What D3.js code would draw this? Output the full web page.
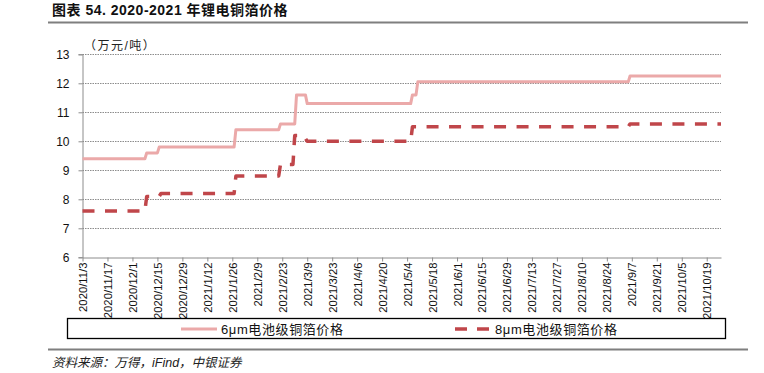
<!DOCTYPE html>
<html>
<head>
<meta charset="utf-8">
<script src="https://cdn.jsdelivr.net/npm/d3@7"></script>
<style>
  html, body { margin: 0; padding: 0; background: #fff; }
  svg { display: block; }
</style>
</head>
<body>
<svg id="chart" width="764" height="373"></svg>
<script>
// ---------------- DATA ----------------
const titleText = "图表 54. 2020-2021 年锂电铜箔价格";
const unitText = "（万元/吨）";
const sourceText = "资料来源：万得，iFind，中银证券";
const seriesNames = ["6μm电池级铜箔价格", "8μm电池级铜箔价格"];

const xTickLabels = ["2020/11/3","2020/11/17","2020/12/1","2020/12/15","2020/12/29",
  "2021/1/12","2021/1/26","2021/2/9","2021/2/23","2021/3/9","2021/3/23","2021/4/6",
  "2021/4/20","2021/5/4","2021/5/18","2021/6/1","2021/6/15","2021/6/29","2021/7/13",
  "2021/7/27","2021/8/10","2021/8/24","2021/9/7","2021/9/21","2021/10/5","2021/10/19"];
const yTicks = [6, 7, 8, 9, 10, 11, 12, 13];
const xStart = "2020-11-03";
const xEnd = "2021-10-27";

// price change points (date, value) — 6μm
const dates6 = ["2020-11-03","2020-12-08","2020-12-09","2020-12-15","2020-12-16",
  "2021-01-27","2021-01-28","2021-02-21","2021-02-22","2021-03-02","2021-03-03",
  "2021-03-08","2021-03-09","2021-05-06","2021-05-07","2021-05-09","2021-05-10",
  "2021-09-05","2021-09-06","2021-10-27"];
const values6 = [9.4, 9.4, 9.6, 9.6, 9.8,
  9.8, 10.4, 10.4, 10.6, 10.6, 11.6,
  11.6, 11.3, 11.3, 11.6, 11.6, 12.05,
  12.05, 12.25, 12.25];

// price change points (date, value) — 8μm
const dates8 = ["2020-11-03","2020-12-08","2020-12-09","2020-12-16","2020-12-17",
  "2021-01-27","2021-01-28","2021-02-21","2021-02-22","2021-03-01","2021-03-02",
  "2021-03-07","2021-03-09","2021-05-06","2021-05-07",
  "2021-09-05","2021-09-06","2021-10-27"];
const values8 = [7.6, 7.6, 8.1, 8.1, 8.2,
  8.2, 8.8, 8.8, 9.2, 9.2, 10.2,
  10.2, 10.0, 10.0, 10.5,
  10.5, 10.6, 10.6];

// ---------------- DRAW ----------------
const svg = d3.select("#chart");
const parseISO = d3.timeParse("%Y-%m-%d");
const parseLbl = d3.timeParse("%Y/%m/%d");
const latin = "'Liberation Sans', Arial, sans-serif";
const cjk = "'Liberation Sans', 'Noto Sans CJK SC', sans-serif";

const plotL = 82.5, plotR = 721, plotT = 54.3, plotB = 257.3;
const x = d3.scaleTime().domain([parseISO(xStart), parseISO(xEnd)]).range([plotL, plotR]);
const y = d3.scaleLinear().domain([6, 13]).range([plotB, plotT]);

// title
svg.append("text").attr("x", 52).attr("y", 15)
  .attr("font-family", cjk).attr("font-weight", "bold").attr("font-size", 14)
  .attr("letter-spacing", 0.5)
  .attr("fill", "#111").text(titleText);
svg.append("line").attr("x1", 48).attr("x2", 748).attr("y1", 22.5).attr("y2", 22.5)
  .attr("stroke", "#7f7f7f").attr("stroke-width", 2);

// unit
svg.append("text").attr("x", 84).attr("y", 49.5)
  .attr("font-family", cjk).attr("font-size", 12).attr("letter-spacing", 1.5)
  .attr("fill", "#222").text(unitText);

// gridlines
svg.append("g").selectAll("line").data(yTicks.filter(d => d !== 6)).join("line")
  .attr("x1", plotL).attr("x2", plotR)
  .attr("y1", d => Math.round(y(d)) + 0.5).attr("y2", d => Math.round(y(d)) + 0.5)
  .attr("stroke", "#8c8c8c").attr("stroke-width", 1).attr("stroke-dasharray", "1.5,1");

// legend box (drawn under the axis labels)
svg.append("rect").attr("x", 67.5).attr("y", 318.5).attr("width", 658).attr("height", 20)
  .attr("fill", "none").attr("stroke", "#000").attr("stroke-width", 1.3);

// y axis
const yAxis = d3.axisLeft(y).tickValues(yTicks).tickSize(4).tickPadding(9).tickFormat(d3.format("d"));
const gy = svg.append("g").attr("transform", `translate(${Math.round(plotL) - 0.5},0)`).call(yAxis);
gy.select(".domain").attr("stroke", "#8c8c8c");
gy.selectAll(".tick line").attr("stroke", "#8c8c8c");
gy.selectAll(".tick text").attr("font-family", latin).attr("font-size", 12).attr("fill", "#111");

// x axis
const xAxis = d3.axisBottom(x).tickValues(xTickLabels.map(parseLbl)).tickSize(4).tickSizeOuter(0)
  .tickFormat((d, i) => xTickLabels[i]);
const gx = svg.append("g").attr("transform", `translate(0,${Math.round(plotB) + 0.5})`).call(xAxis);
gx.select(".domain").attr("stroke", "#8c8c8c");
gx.selectAll(".tick line").attr("stroke", "#8c8c8c");
gx.selectAll(".tick text")
  .attr("font-family", latin).attr("font-size", 11.3).attr("fill", "#111")
  .attr("transform", "rotate(-90)")
  .attr("text-anchor", "end").attr("x", -5).attr("y", 0).attr("dy", "0.35em");

// series
const line = d3.line().x(d => x(d[0])).y(d => y(d[1]));
const pts6 = dates6.map((d, i) => [parseISO(d), values6[i]]);
const pts8 = dates8.map((d, i) => [parseISO(d), values8[i]]);

svg.append("path").datum(pts6).attr("d", line)
  .attr("fill", "none").attr("stroke", "#eba9a9").attr("stroke-width", 3)
  .attr("stroke-linejoin", "round");
svg.append("path").datum(pts8).attr("d", line)
  .attr("fill", "none").attr("stroke", "#c0464a").attr("stroke-width", 3.5)
  .attr("stroke-dasharray", "12,10.5").attr("stroke-linejoin", "round");

// legend
const ly = 329;
svg.append("line").attr("x1", 181).attr("x2", 217).attr("y1", ly).attr("y2", ly)
  .attr("stroke", "#eba9a9").attr("stroke-width", 3);
svg.append("text").attr("x", 221).attr("y", ly + 4.5)
  .attr("font-family", cjk).attr("font-size", 13).attr("letter-spacing", 0.6)
  .attr("fill", "#111").text(seriesNames[0]);
svg.append("line").attr("x1", 455).attr("x2", 489).attr("y1", ly).attr("y2", ly)
  .attr("stroke", "#c0464a").attr("stroke-width", 3.5).attr("stroke-dasharray", "12,10");
svg.append("text").attr("x", 495).attr("y", ly + 4.5)
  .attr("font-family", cjk).attr("font-size", 13).attr("letter-spacing", 0.6)
  .attr("fill", "#111").text(seriesNames[1]);

// bottom rule and source
svg.append("line").attr("x1", 48).attr("x2", 748).attr("y1", 349.5).attr("y2", 349.5)
  .attr("stroke", "#7f7f7f").attr("stroke-width", 2);
svg.append("text").attr("x", 52).attr("y", 366.5)
  .attr("font-family", cjk).attr("font-size", 12.5).attr("font-style", "italic")
  .attr("fill", "#222").text(sourceText);
</script>
</body>
</html>
